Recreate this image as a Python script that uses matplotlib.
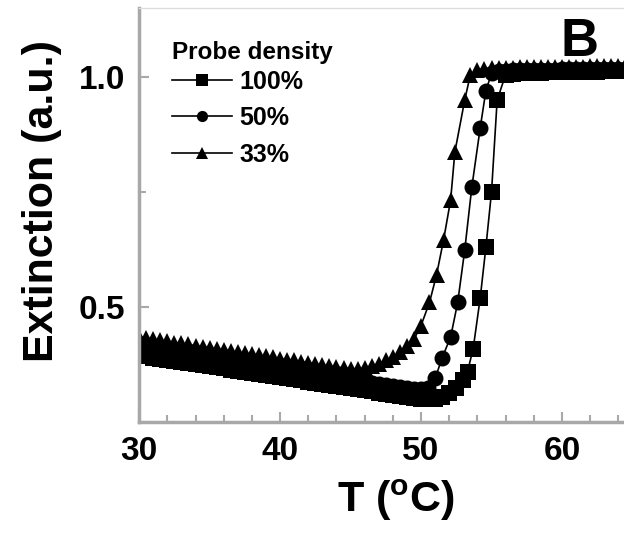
import matplotlib
matplotlib.use("Agg")
import matplotlib.pyplot as plt
from matplotlib.ticker import MultipleLocator
import numpy as np

plt.rcParams['font.family'] = ['Liberation Sans', 'DejaVu Sans']
plt.rcParams['font.weight'] = 'bold'
plt.rcParams['mathtext.fontset'] = 'custom'
plt.rcParams['mathtext.rm'] = 'Liberation Sans:bold'
plt.rcParams['mathtext.default'] = 'rm'

# shared temperature grid for the slow baseline and the plateau
t_base = [30.0, 30.5, 31.0, 31.5, 32.0, 32.5, 33.0, 33.5, 34.0, 34.5,
          35.0, 35.5, 36.0, 36.5, 37.0, 37.5, 38.0, 38.5, 39.0, 39.5,
          40.0, 40.5, 41.0, 41.5, 42.0, 42.5, 43.0, 43.5, 44.0, 44.5,
          45.0, 45.5, 46.0, 46.5, 47.0, 47.5, 48.0, 48.5, 49.0, 49.5, 50.0]
t_plateau = [56.0, 56.5, 57.0, 57.5, 58.0, 58.5, 59.0, 59.5, 60.0, 60.5,
             61.0, 61.5, 62.0, 62.5, 63.0, 63.5, 64.0, 64.5]

# 100 %
ext100_base = [0.395, 0.393, 0.390, 0.388, 0.386, 0.383, 0.381, 0.379, 0.376, 0.374,
               0.371, 0.369, 0.367, 0.364, 0.362, 0.360, 0.357, 0.355, 0.352, 0.350,
               0.348, 0.345, 0.343, 0.341, 0.338, 0.336, 0.333, 0.331, 0.329, 0.326,
               0.324, 0.322, 0.319, 0.317, 0.314, 0.312, 0.310, 0.307, 0.305, 0.303, 0.301]
t100_rise = [50.5, 51.0, 51.5, 52.0, 52.5, 53.0, 53.3, 53.7, 54.2, 54.6, 55.0, 55.4]
ext100_rise = [0.300, 0.301, 0.305, 0.313, 0.325, 0.342, 0.360, 0.410, 0.520, 0.630, 0.750, 0.950]
ext100_plateau = [1.005, 1.007, 1.008, 1.008, 1.009, 1.009, 1.010, 1.010, 1.010, 1.010,
                  1.011, 1.011, 1.011, 1.011, 1.012, 1.012, 1.012, 1.012]

# 50 %
ext50_base = [0.410, 0.408, 0.405, 0.403, 0.401, 0.399, 0.396, 0.394, 0.392, 0.390,
              0.387, 0.385, 0.383, 0.381, 0.378, 0.376, 0.374, 0.372, 0.369, 0.367,
              0.365, 0.363, 0.360, 0.358, 0.356, 0.354, 0.351, 0.349, 0.347, 0.345,
              0.342, 0.340, 0.338, 0.336, 0.333, 0.331, 0.329, 0.327, 0.325, 0.323, 0.322]
t50_rise = [50.5, 51.0, 51.5, 52.1, 52.6, 53.1, 53.6, 54.2, 54.6, 55.0, 55.5]
ext50_rise = [0.324, 0.345, 0.390, 0.435, 0.510, 0.624, 0.760, 0.890, 0.970, 1.008, 1.013]
ext50_plateau = [1.014, 1.015, 1.015, 1.015, 1.016, 1.016, 1.016, 1.016, 1.017, 1.017,
                 1.017, 1.017, 1.017, 1.018, 1.018, 1.018, 1.018, 1.018]

# 33 %
ext33_base = [0.435, 0.433, 0.430, 0.428, 0.426, 0.423, 0.421, 0.419, 0.416, 0.414,
              0.412, 0.409, 0.407, 0.405, 0.402, 0.400, 0.398, 0.395, 0.393, 0.391,
              0.388, 0.386, 0.384, 0.381, 0.379, 0.377, 0.374, 0.372, 0.370, 0.368,
              0.366, 0.366, 0.368, 0.372, 0.377, 0.384, 0.392, 0.402, 0.415, 0.430, 0.460]
t33_rise = [50.6, 51.1, 51.6, 52.1, 52.4, 53.1, 53.5, 54.0, 54.5, 55.0, 55.5]
ext33_rise = [0.510, 0.570, 0.646, 0.733, 0.837, 0.950, 1.005, 1.015, 1.018, 1.019, 1.020]
ext33_plateau = [1.020, 1.020, 1.021, 1.021, 1.021, 1.021, 1.022, 1.022, 1.022, 1.022,
                 1.022, 1.022, 1.023, 1.023, 1.023, 1.023, 1.023, 1.023]

series = [
    ("100%", "s", t100_rise, ext100_base, ext100_rise, ext100_plateau),
    ("50%", "o", t50_rise, ext50_base, ext50_rise, ext50_plateau),
    ("33%", "^", t33_rise, ext33_base, ext33_rise, ext33_plateau),
]

fig = plt.figure(figsize=(6.24, 5.33), dpi=100)
ax = fig.add_axes([0.223, 0.208, 0.777, 0.777])

for label, marker, t_rise, e_base, e_rise, e_plat in series:
    t = np.concatenate([t_base, t_rise, t_plateau])
    e = np.concatenate([e_base, e_rise, e_plat])
    ax.plot(t, e, color="black", lw=1.2, marker=marker, markersize=11.5,
            markeredgewidth=0, label=label)

ax.set_xlim(30, 64.4)
ax.set_ylim(0.25, 1.15)
ax.xaxis.set_major_locator(MultipleLocator(10))
ax.xaxis.set_minor_locator(MultipleLocator(2))
ax.yaxis.set_major_locator(MultipleLocator(0.5))
ax.yaxis.set_minor_locator(MultipleLocator(0.25))

grey = "#a8a8a8"
for side in ["left", "bottom"]:
    ax.spines[side].set_color(grey)
    ax.spines[side].set_linewidth(2.5)
ax.spines["top"].set_color("#dddddd")
ax.spines["top"].set_linewidth(1.0)
ax.spines["right"].set_visible(False)

ax.tick_params(which="both", direction="in", color=grey, width=1.5)
ax.tick_params(which="major", length=7, labelsize=24, pad=10)
ax.tick_params(which="minor", length=5)
ax.yaxis.set_major_formatter(plt.FormatStrFormatter("%.1f"))
for lab in ax.get_xticklabels() + ax.get_yticklabels():
    lab.set_fontweight("bold")

ax.set_xlabel(r"T ($^\mathrm{o}$C)", fontsize=31, fontweight="bold")
ax.set_ylabel("Extinction (a.u.)", fontsize=31, fontweight="bold")
ax.xaxis.set_label_coords(0.53, -0.135)
ax.yaxis.set_label_coords(-0.16, 0.533)

leg = ax.legend(title="Probe density", loc="upper left",
                bbox_to_anchor=(0.068, 0.92), frameon=False, fontsize=18,
                title_fontproperties={"weight": "bold", "size": 17.5},
                handlelength=2.4, handletextpad=0.3, labelspacing=0.5,
                markerscale=0.7, borderaxespad=0, borderpad=0)
leg._legend_box.align = "left"
leg._legend_box.sep = 4

fig.text(580 / 624, 1 - 42 / 533, "B", fontsize=38, fontweight="bold",
         ha="center", va="center")

fig.savefig("out.png", dpi=100)
